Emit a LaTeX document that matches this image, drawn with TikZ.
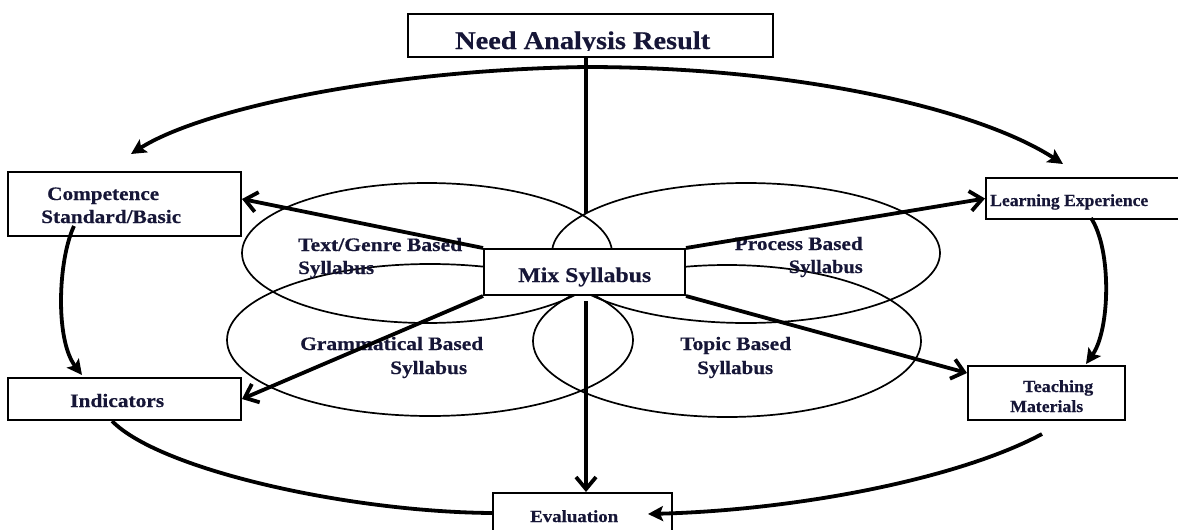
\documentclass[tikz,border=0pt]{standalone}
\usepackage{graphicx}
\usepackage{fontspec}
\setmainfont{Liberation Serif}[BoldFeatures={FakeBold=0.4}]
\usetikzlibrary{arrows.meta,calc}
\newcommand{\tx}[2]{\resizebox{#1pt}{\height}{#2}}
\definecolor{ink}{RGB}{22,22,55}
\begin{document}
\begin{tikzpicture}[x=1pt,y=-1pt,
  box/.style={draw, line width=2pt, fill=white, rectangle, inner sep=0pt},
  lbl/.style={inner sep=0pt, text=ink, anchor=base west, font=\fontsize{19}{22}\selectfont\bfseries},
  small/.style={lbl, font=\fontsize{17}{20}\selectfont\bfseries},
  ell/.style={line width=1.7pt},
  thk/.style={line width=3.8pt},
  arrV/.style={-{Straight Barb[length=12pt,width=20pt]}},
  arrF/.style={-{Stealth[length=15pt,width=15pt,inset=3pt]}},
  arrFF/.style={{Stealth[length=15pt,width=15pt,inset=3pt]}-{Stealth[length=15pt,width=15pt,inset=3pt]}}
]
\useasboundingbox[fill=white] (0,0) rectangle (1178,530);

% ellipses
\draw[ell] (427,253) ellipse (185pt and 70pt);
\draw[ell] (746,253) ellipse (194pt and 70pt);
\draw[ell] (430,340) ellipse (203pt and 76pt);
\draw[ell] (727,341) ellipse (194pt and 76pt);

% ellipse labels
\node[lbl] (tg1) at (298,251) {\tx{164}{Text/Genre Based}};
\node[lbl] (tg2) at (298,274) {\tx{76}{Syllabus}};
\node[lbl, anchor=base east] (pb1) at (863,250) {\tx{128}{Process Based}};
\node[lbl, anchor=base east] (pb2) at (863,273) {\tx{74}{Syllabus}};
\node[lbl] (gb1) at (300,350) {\tx{183}{Grammatical Based}};
\node[lbl] (gb2) at (390,374) {\tx{77}{Syllabus}};
\node[lbl] (tb1) at (680,350) {\tx{111}{Topic Based}};
\node[lbl] (tb2) at (697,374) {\tx{76}{Syllabus}};

% boxes
\node[box, minimum width=365pt, minimum height=43pt] (need) at (590.5,35.5) {};
\node[box, minimum width=233pt, minimum height=64pt] (comp) at (124.5,204) {};
\node[box, minimum width=233pt, minimum height=42pt] (ind) at (124.5,399) {};
\node[box, minimum width=196pt, minimum height=41pt] (le) at (1084,198.5) {};
\node[box, minimum width=157pt, minimum height=54pt] (tm) at (1046.5,393) {};
\node[box, minimum width=179pt, minimum height=52pt] (eval) at (582.5,519) {};
\node[box, minimum width=201pt, minimum height=46pt] (mix) at (584.5,272) {};

% box labels
\begin{scope}
  \clip (408,14) rectangle (773,50.5);
  \node[lbl, font=\fontsize{25.5}{30}\selectfont\bfseries] (needt) at (455,49) {\tx{255}{Need Analysis Result}};
\end{scope}
\node[lbl, font=\fontsize{21}{25}\selectfont\bfseries] (mixt) at (518,282) {\tx{133}{Mix Syllabus}};
\node[lbl] (compt1) at (47,200) {\tx{112}{Competence}};
\node[lbl] (compt2) at (41,223) {\tx{140}{Standard/Basic}};
\node[lbl] (indt) at (70,407) {\tx{94}{Indicators}};
\node[small] (let) at (990,206) {\tx{158}{Learning Experience}};
\node[small] (tmt1) at (1023,392) {\tx{70}{Teaching}};
\node[small] (tmt2) at (1010,412) {\tx{73}{Materials}};
\node[small] (evalt) at (530,522) {\tx{88}{Evaluation}};

% free ends
\coordinate (meet) at (586,213);
\coordinate (arcL) at (131,154);
\coordinate (arcTop) at (586,67);
\coordinate (arcR) at (1063,164);

% connectors
\draw[thk] ($(need.south)+(-4.5,0)$) -- (meet);
\draw[thk, arrFF] (arcL) .. controls (200,110) and (380,70) .. (arcTop)
                         .. controls (800,67) and (980,110) .. (arcR);
\draw[thk, arrV] (mix.north west) -- ($(comp.east)+(0,-5)$);
\draw[thk, arrV] (mix.south west) -- (ind.east);
\draw[thk, arrV] (mix.north east) -- (le.west);
\draw[thk, arrV] (mix.south east) -- ($(tm.west)+(0,-20)$);
\draw[thk, arrV] ($(mix.south)+(1.5,5)$) -- ($(eval.north)+(3.5,0)$);

\draw[thk, arrF] ($(comp.south west)+(67,-11)$) .. controls (58,260) and (55,340) .. ($(ind.north west)+(75,-2)$);
\draw[thk, arrF] ($(le.south west)+(106,-2)$) .. controls (1112,250) and (1110,330) .. ($(tm.north east)+(-40,-1)$);
\draw[thk] ($(ind.south west)+(105,0)$) .. controls (160,470) and (350,512) .. ($(eval.west)+(0,-6)$);
\draw[thk, arrF] ($(tm.south)+(-4.5,13)$) .. controls (960,478) and (800,510) .. ($(eval.east)+(-25,-5)$);
\end{tikzpicture}
\end{document}
